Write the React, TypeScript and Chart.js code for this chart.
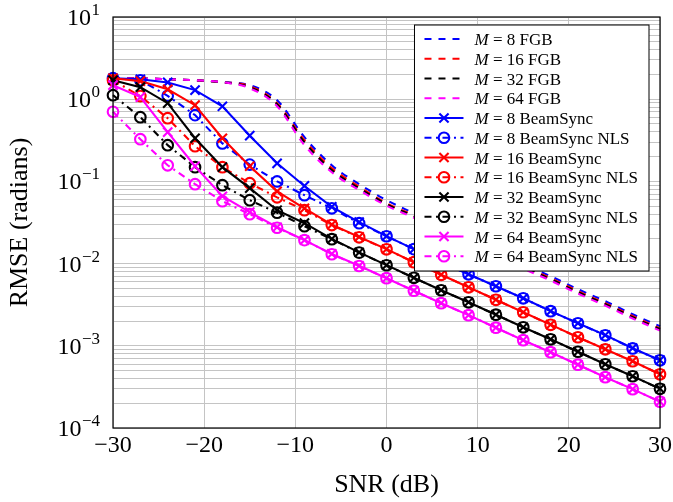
import { useEffect, useRef } from 'react';
import { Chart, registerables } from 'chart.js';

Chart.register(...registerables);

const W = 673;
const H = 502;
const SERIF = "'Liberation Serif', 'Times New Roman', serif";

// ---------- data ----------
const SNR_DB = [-30, -27, -24, -21, -18, -15, -12, -9, -6, -3, 0, 3, 6, 9, 12, 15, 18, 21, 24, 27, 30];

const FGB_M8 = [1.80, 1.78, 1.75, 1.70, 1.61, 1.48, 0.972, 0.345, 0.157, 0.0926, 0.0591, 0.0410, 0.0285, 0.0198, 0.0141, 0.00982, 0.00702, 0.00488, 0.00349, 0.00242, 0.00173];
const FGB_M16 = [1.80, 1.78, 1.75, 1.70, 1.61, 1.44, 0.894, 0.317, 0.145, 0.0862, 0.0544, 0.0388, 0.0270, 0.0187, 0.0134, 0.00930, 0.00665, 0.00462, 0.00330, 0.00230, 0.00163];
const FGB_M32 = [1.80, 1.78, 1.75, 1.70, 1.61, 1.40, 0.869, 0.300, 0.137, 0.0827, 0.0528, 0.0377, 0.0262, 0.0182, 0.0130, 0.00904, 0.00646, 0.00449, 0.00321, 0.00223, 0.00159];
const FGB_M64 = [1.80, 1.78, 1.75, 1.70, 1.61, 1.36, 0.822, 0.276, 0.129, 0.0784, 0.0507, 0.0362, 0.0252, 0.0175, 0.0125, 0.00868, 0.00621, 0.00431, 0.00308, 0.00215, 0.00153];

const BS_M8 = [1.80, 1.75, 1.60, 1.29, 0.82, 0.36, 0.166, 0.088, 0.049, 0.0319, 0.0216, 0.0150, 0.0104, 0.00743, 0.00531, 0.00379, 0.00264, 0.00188, 0.00135, 0.000935, 0.000668];
const NLS_M8 = [1.80, 1.70, 1.10, 0.64, 0.29, 0.16, 0.100, 0.068, 0.047, 0.031, 0.0215, 0.0150, 0.0104, 0.00740, 0.00530, 0.00378, 0.00264, 0.00188, 0.00134, 0.000930, 0.000665];
const BS_M16 = [1.80, 1.66, 1.32, 0.845, 0.335, 0.153, 0.0757, 0.047, 0.0298, 0.0211, 0.0150, 0.0104, 0.00733, 0.00516, 0.00364, 0.00256, 0.00181, 0.00127, 0.000909, 0.000650, 0.000451];
const NLS_M16 = [1.70, 1.09, 0.587, 0.268, 0.149, 0.0951, 0.064, 0.0446, 0.0294, 0.0209, 0.0149, 0.0104, 0.00731, 0.00515, 0.00363, 0.00256, 0.00180, 0.00127, 0.000907, 0.000649, 0.000450];
const BS_M32 = [1.70, 1.40, 0.894, 0.335, 0.149, 0.0827, 0.0446, 0.0310, 0.0200, 0.0137, 0.00957, 0.00673, 0.00475, 0.00339, 0.00239, 0.00168, 0.00120, 0.000848, 0.000597, 0.000427, 0.000301];
const NLS_M32 = [1.12, 0.604, 0.276, 0.149, 0.0899, 0.0591, 0.0416, 0.0285, 0.0198, 0.0136, 0.00955, 0.00672, 0.00474, 0.00338, 0.00239, 0.00168, 0.00120, 0.000847, 0.000596, 0.000426, 0.000300];
const BS_M64 = [1.48, 1.06, 0.397, 0.153, 0.066, 0.0422, 0.0277, 0.0193, 0.0131, 0.00940, 0.00664, 0.00468, 0.00330, 0.00236, 0.00166, 0.00117, 0.000836, 0.000589, 0.000415, 0.000297, 0.000209];
const NLS_M64 = [0.704, 0.326, 0.157, 0.0926, 0.0574, 0.0399, 0.0273, 0.0193, 0.0130, 0.00935, 0.00664, 0.00468, 0.00330, 0.00236, 0.00166, 0.00117, 0.000836, 0.000589, 0.000415, 0.000297, 0.000209];

const LABELS = [
  'M = 8 FGB', 'M = 16 FGB', 'M = 32 FGB', 'M = 64 FGB',
  'M = 8 BeamSync', 'M = 8 BeamSync NLS',
  'M = 16 BeamSync', 'M = 16 BeamSync NLS',
  'M = 32 BeamSync', 'M = 32 BeamSync NLS',
  'M = 64 BeamSync', 'M = 64 BeamSync NLS',
];
const SERIES_VALUES = [FGB_M8, FGB_M16, FGB_M32, FGB_M64, BS_M8, NLS_M8, BS_M16, NLS_M16, BS_M32, NLS_M32, BS_M64, NLS_M64];
const SERIES_KIND = ['fgb', 'fgb', 'fgb', 'fgb', 'bs', 'nls', 'bs', 'nls', 'bs', 'nls', 'bs', 'nls'];
const SERIES_COLOR = ['#0000ff', '#ff0000', '#000000', '#ff00ff', '#0000ff', '#0000ff', '#ff0000', '#ff0000', '#000000', '#000000', '#ff00ff', '#ff00ff'];

const X_TICKS = [-30, -20, -10, 0, 10, 20, 30];
const Y_EXPONENTS = [-4, -3, -2, -1, 0, 1];

// ---------- styles ----------
const LW = 2.1;
const DASHED = [7, 7];
const DASHDOT = [7, 4.5, 2, 4.5];
const GRID = '#c4c4c4';

function styleFor(kind: string) {
  if (kind === 'fgb') return { borderDash: DASHED, pointRadius: 0, pointStyle: 'circle' };
  if (kind === 'bs') return { borderDash: [] as number[], pointRadius: 6.5, pointStyle: 'crossRot' };
  return { borderDash: DASHDOT, pointRadius: 5.3, pointStyle: 'circle' };
}

function minusText(v: number) {
  return v < 0 ? '\u2212' + String(-v) : String(v);
}

function drawMarker(ctx: CanvasRenderingContext2D, style: string, x: number, y: number, r: number) {
  ctx.beginPath();
  if (style === 'crossRot') {
    const d = r * Math.SQRT1_2;
    ctx.moveTo(x - d, y - d);
    ctx.lineTo(x + d, y + d);
    ctx.moveTo(x - d, y + d);
    ctx.lineTo(x + d, y - d);
  } else {
    ctx.arc(x, y, r, 0, Math.PI * 2);
  }
  ctx.stroke();
}

const overlayPlugin = {
  id: 'overlay',
  afterDraw(chart: any) {
    const ctx: CanvasRenderingContext2D = chart.ctx;
    const area = chart.chartArea;
    const xs = chart.scales.x;
    const ys = chart.scales.y;
    ctx.save();

    // axis frame
    ctx.setLineDash([]);
    ctx.strokeStyle = '#000';
    ctx.lineWidth = 1.2;
    ctx.strokeRect(area.left, area.top, area.right - area.left, area.bottom - area.top);

    // legend
    const fs = 17;
    const rowH = 19.75;
    const padL = 10;
    const sampleW = 39;
    const gap = 11;
    const padR = 11;
    let maxText = 0;
    const parts = chart.data.datasets.map((ds: any) => {
      const lab: string = ds.label;
      const ital = lab.slice(0, 1);
      const rest = lab.slice(1);
      ctx.font = `italic ${fs}px ${SERIF}`;
      const wi = ctx.measureText(ital).width;
      ctx.font = `${fs}px ${SERIF}`;
      const wr = ctx.measureText(rest).width;
      maxText = Math.max(maxText, wi + wr);
      return { ital, rest, wi };
    });
    const boxW = padL + sampleW + gap + maxText + padR;
    const boxH = rowH * parts.length + 9;
    const boxX = area.right - 11 - boxW;
    const boxY = area.top + 8;
    ctx.fillStyle = '#fff';
    ctx.fillRect(boxX, boxY, boxW, boxH);
    ctx.strokeStyle = '#000';
    ctx.lineWidth = 1;
    ctx.strokeRect(boxX, boxY, boxW, boxH);
    chart.data.datasets.forEach((ds: any, i: number) => {
      const cy = boxY + 14 + i * rowH;
      const x0 = boxX + padL;
      ctx.strokeStyle = ds.borderColor;
      ctx.lineWidth = LW;
      ctx.setLineDash(ds.borderDash || []);
      ctx.beginPath();
      ctx.moveTo(x0, cy);
      ctx.lineTo(x0 + sampleW, cy);
      ctx.stroke();
      ctx.setLineDash([]);
      if (ds.pointRadius > 0) {
        drawMarker(ctx, ds.pointStyle, x0 + sampleW / 2, cy, ds.pointRadius);
      }
      const tx = x0 + sampleW + gap;
      ctx.fillStyle = '#000';
      ctx.textAlign = 'left';
      ctx.textBaseline = 'alphabetic';
      ctx.font = `italic ${fs}px ${SERIF}`;
      ctx.fillText(parts[i].ital, tx, cy + 6);
      ctx.font = `${fs}px ${SERIF}`;
      ctx.fillText(parts[i].rest, tx + parts[i].wi, cy + 6);
    });

    // tick labels
    ctx.fillStyle = '#000';
    ctx.textBaseline = 'alphabetic';
    const tfs = 24;
    const efs = 17;
    ctx.font = `${tfs}px ${SERIF}`;
    ctx.textAlign = 'center';
    X_TICKS.forEach((v) => {
      const px = xs.getPixelForValue(v);
      ctx.fillText(minusText(v), px, area.bottom + 24);
    });
    const rightEdge = area.left - 13;
    Y_EXPONENTS.forEach((e) => {
      const py = ys.getPixelForValue(Math.pow(10, e));
      const ex = minusText(e);
      ctx.font = `${efs}px ${SERIF}`;
      const ew = ctx.measureText(ex).width;
      ctx.textAlign = 'right';
      ctx.fillText(ex, rightEdge, py - 2);
      ctx.font = `${tfs}px ${SERIF}`;
      ctx.fillText('10', rightEdge - ew - 0.5, py + 8);
    });
    ctx.restore();
  },
};

export default function App() {
  const ref = useRef<HTMLCanvasElement | null>(null);
  useEffect(() => {
    document.body.style.margin = '0';
    const canvas = ref.current;
    if (!canvas) return;
    const datasets = SERIES_VALUES.map((vals, i) => {
      const st = styleFor(SERIES_KIND[i]);
      return {
        label: LABELS[i],
        data: SNR_DB.map((x, j) => ({ x, y: vals[j] })),
        borderColor: SERIES_COLOR[i],
        backgroundColor: 'rgba(0,0,0,0)',
        pointBackgroundColor: 'rgba(0,0,0,0)',
        pointBorderColor: SERIES_COLOR[i],
        pointBorderWidth: LW,
        borderWidth: LW,
        borderDash: st.borderDash,
        pointRadius: st.pointRadius,
        pointHoverRadius: st.pointRadius,
        pointStyle: st.pointStyle,
        cubicInterpolationMode: SERIES_KIND[i] === 'fgb' ? 'monotone' : 'default',
        fill: false,
        clip: false,
        order: SERIES_VALUES.length - i,
      };
    });
    const chart = new Chart(canvas, {
      type: 'line',
      data: { datasets } as any,
      options: {
        animation: false,
        responsive: false,
        devicePixelRatio: 1,
        events: [],
        layout: { padding: { left: 0, right: 13, top: 17, bottom: 0 } },
        plugins: { legend: { display: false }, tooltip: { enabled: false } },
        scales: {
          x: {
            type: 'linear',
            min: -30,
            max: 30,
            ticks: { display: false, stepSize: 10 },
            grid: { color: GRID, lineWidth: 1, drawTicks: false },
            border: { display: false },
            title: {
              display: true,
              text: 'SNR (dB)',
              color: '#000',
              font: { family: SERIF, size: 26 },
              padding: { top: 0, bottom: 1 },
            },
            afterFit: (s: any) => { s.height = 74; },
          },
          y: {
            type: 'logarithmic',
            min: 1e-4,
            max: 10,
            ticks: { display: false },
            afterBuildTicks: (s: any) => {
              const t: { value: number }[] = [];
              for (let e = -4; e < 1; e++) {
                for (let m = 1; m <= 9; m++) t.push({ value: m * Math.pow(10, e) });
              }
              t.push({ value: 10 });
              s.ticks = t;
            },
            grid: { color: GRID, lineWidth: 1, drawTicks: false },
            border: { display: false },
            title: {
              display: true,
              text: 'RMSE (radians)',
              color: '#000',
              font: { family: SERIF, size: 26 },
              padding: { top: 5, bottom: 0 },
            },
            afterFit: (s: any) => { s.width = 113; },
          },
        },
      } as any,
      plugins: [overlayPlugin],
    });
    return () => chart.destroy();
  }, []);
  return (
    <div style={{ position: 'absolute', left: 0, top: 0, width: W, height: H }}>
      <canvas ref={ref} width={W} height={H} style={{ display: 'block', width: W, height: H }} />
    </div>
  );
}
